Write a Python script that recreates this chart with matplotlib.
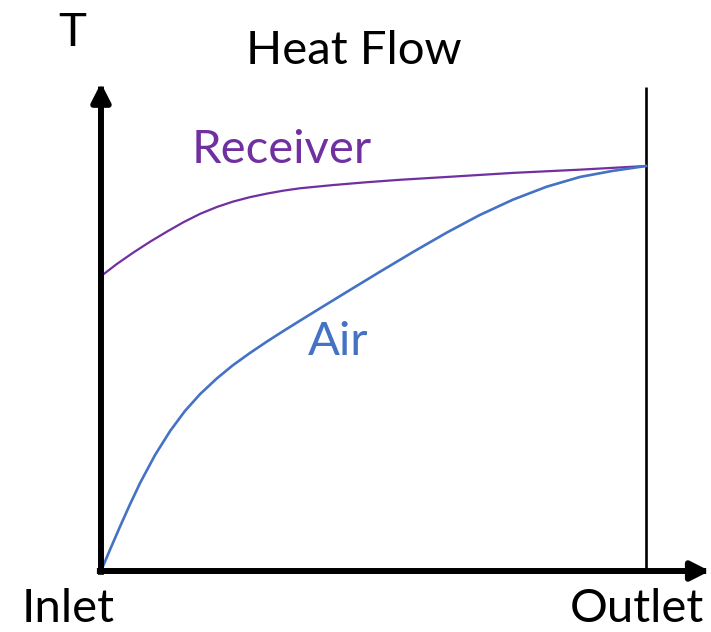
import matplotlib
matplotlib.use("Agg")
import matplotlib.pyplot as plt

plt.rcParams['font.family'] = ['Lato', 'DejaVu Sans']

# position along the receiver (0 = inlet, 1 = outlet), normalised temperature
receiver_x = [0.0, 0.029, 0.059, 0.090, 0.121, 0.151, 0.182, 0.213, 0.242,
              0.273, 0.305, 0.334, 0.365, 0.426, 0.488, 0.549, 0.635, 0.756,
              0.879, 1.0]
receiver_t = [0.728, 0.758, 0.786, 0.813, 0.838, 0.861, 0.882, 0.899, 0.912,
              0.923, 0.932, 0.939, 0.945, 0.953, 0.960, 0.966, 0.973, 0.983,
              0.991, 1.0]

air_x = [0.0, 0.017, 0.035, 0.053, 0.072, 0.099, 0.127, 0.154, 0.182, 0.213,
         0.242, 0.273, 0.305, 0.334, 0.365, 0.406, 0.457, 0.512, 0.573, 0.635,
         0.695, 0.756, 0.818, 0.879, 0.939, 1.0]
air_t = [0.0, 0.054, 0.110, 0.164, 0.218, 0.286, 0.346, 0.395, 0.437, 0.476,
         0.508, 0.538, 0.567, 0.592, 0.618, 0.652, 0.694, 0.739, 0.788, 0.836,
         0.879, 0.917, 0.949, 0.973, 0.988, 1.0]

purple = "#7030A0"
blue = "#4472C4"

fig = plt.figure(figsize=(7.11, 6.32), dpi=100)
ax = fig.add_axes([0, 0, 1, 1])
ax.set_xlim(-0.1853, 1.1193)
ax.set_ylim(-0.1506, 1.4099)
ax.axis("off")

# axes arrows
arrow = dict(arrowstyle="-|>,head_length=0.55,head_width=0.28",
             mutation_scale=20, lw=4.3, color="black",
             shrinkA=0, shrinkB=0, capstyle="projecting")
ax.annotate("", xy=(0, 1.205), xytext=(0, -0.002), arrowprops=arrow,
            annotation_clip=False)
ax.annotate("", xy=(1.117, 0), xytext=(-0.002, 0), arrowprops=arrow,
            annotation_clip=False)

# outlet line
ax.plot([1, 1], [0.007, 1.195], color="black", lw=1.9, solid_capstyle="butt")

ax.plot(receiver_x, receiver_t, color=purple, lw=1.6, solid_joinstyle="round")
ax.plot(air_x, air_t, color=blue, lw=1.9, solid_joinstyle="round")

fs = 34
ax.text(-0.053, 1.296, "T", fontsize=fs, ha="center", va="baseline")
ax.text(0.464, 1.252, "Heat Flow", fontsize=fs, ha="center", va="baseline")
ax.text(0.332, 1.007, "Receiver", fontsize=fs, ha="center", va="baseline", color=purple)
ax.text(0.435, 0.533, "Air", fontsize=fs, ha="center", va="baseline", color=blue)
ax.text(-0.060, -0.126, "Inlet", fontsize=fs, ha="center", va="baseline")
ax.text(0.984, -0.126, "Outlet", fontsize=fs, ha="center", va="baseline")

fig.savefig("out.png", dpi=100)
